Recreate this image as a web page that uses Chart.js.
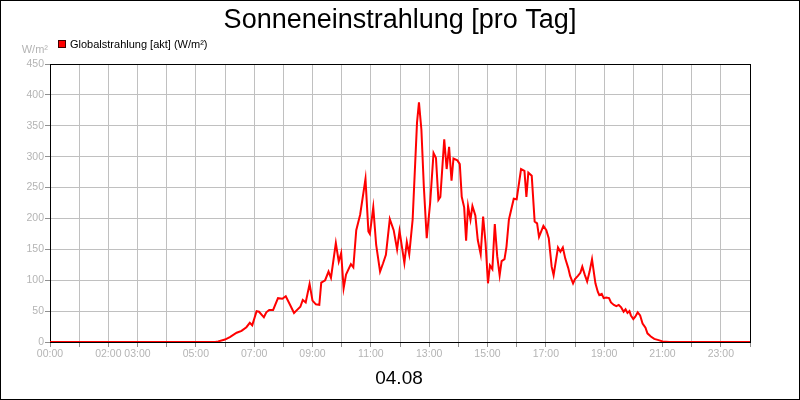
<!DOCTYPE html>
<html>
<head>
<meta charset="utf-8">
<script src="https://cdn.jsdelivr.net/npm/chart.js@4.4.1/dist/chart.umd.min.js"></script>
<style>
  html, body { margin: 0; padding: 0; background: #fff; }
  #wrap { width: 800px; height: 400px; }
</style>
</head>
<body>
<div id="wrap"><canvas id="c" width="800" height="400"></canvas></div>
<script>
const chartTitle = 'Sonneneinstrahlung [pro Tag]';
const dateLabel = '04.08';
const seriesName = 'Globalstrahlung [akt] (W/m²)';
const yUnit = 'W/m²';
const xTickHours = [0, 2, 3, 5, 7, 9, 11, 13, 15, 17, 19, 21, 23];

const times = [
  '00:00','05:40','05:46','06:00','06:10','06:24','06:34','06:44','06:51','06:56',
  '07:05','07:10','07:20','07:25','07:31','07:39','07:49','07:58','08:05','08:14',
  '08:22','08:31','08:35','08:40','08:46','08:54','09:00','09:07','09:14','09:18',
  '09:26','09:33','09:38','09:48','09:54','09:59','10:04','10:09','10:19','10:24',
  '10:30','10:38','10:49','10:55','10:58','11:05','11:11','11:19','11:25','11:31',
  '11:39','11:47','11:54','11:59','12:04','12:09','12:14','12:19','12:26','12:35',
  '12:39','12:44','12:49','12:55','13:02','13:09','13:14','13:19','13:23','13:31',
  '13:36','13:41','13:46','13:50','13:58','14:03','14:07','14:12','14:16','14:20',
  '14:25','14:29','14:35','14:40','14:46','14:51','14:56','15:01','15:05','15:10',
  '15:15','15:20','15:25','15:29','15:35','15:39','15:44','15:54','16:00','16:09',
  '16:16','16:20','16:24','16:31','16:37','16:42','16:46','16:55','17:01','17:06',
  '17:12','17:16','17:25','17:30','17:35','17:40','17:46','17:50','17:56','18:00',
  '18:06','18:11','18:15','18:20','18:25','18:30','18:35','18:38','18:42','18:47',
  '18:50','18:55','18:59','19:04','19:10','19:14','19:20','19:25','19:30','19:35',
  '19:40','19:44','19:48','19:52','19:55','20:00','20:04','20:09','20:14','20:19',
  '20:25','20:29','20:36','20:43','20:52','21:00','21:14','24:00'
];
const radiation = [
  0, 0, 1, 4, 8, 15, 18, 24, 31, 27,
  50, 49, 40, 48, 52, 52, 71, 70, 74, 60,
  47, 54, 57, 68, 64, 94, 67, 61, 60, 96,
  100, 114, 104, 160, 130, 144, 87, 109, 126, 121,
  181, 206, 264, 179, 175, 218, 157, 114, 127, 141,
  199, 181, 150, 180, 154, 128, 162, 142, 198, 355,
  388, 344, 252, 168, 225, 306, 298, 230, 235, 328,
  280, 316, 261, 297, 294, 288, 235, 218, 164, 220,
  198, 220, 205, 165, 142, 203, 160, 95, 124, 118,
  191, 139, 108, 131, 134, 154, 198, 232, 231, 280,
  277, 235, 274, 269, 195, 192, 170, 188, 181, 168,
  122, 108, 153, 146, 153, 135, 120, 107, 95, 102,
  107, 112, 122, 109, 98, 114, 134, 117, 95, 81,
  76, 78, 71, 72, 71, 64, 60, 58, 60, 56,
  49, 53, 47, 50, 43, 37, 41, 48, 43, 30,
  23, 14, 9, 5, 3, 1, 0, 0
];

function toHours(t) { const p = t.split(':'); return +p[0] + (+p[1]) / 60; }
const points = times.map((t, i) => ({ x: toHours(t), y: radiation[i] }));

const FONT = "'Liberation Sans', Arial, sans-serif";
const GRAY_TXT = '#b4b4b4';

const decor = {
  id: 'decor',
  beforeDraw(chart) {
    const ctx = chart.ctx;
    ctx.save();
    ctx.fillStyle = '#fff';
    ctx.fillRect(0, 0, chart.width, chart.height);
    ctx.restore();
  },
  beforeDatasetsDraw(chart) {
    const ctx = chart.ctx, a = chart.chartArea;
    ctx.save();
    ctx.strokeStyle = '#000';
    ctx.lineWidth = 1;
    ctx.strokeRect(Math.round(a.left) + 0.5, Math.round(a.top) + 0.5,
                   Math.round(a.right - a.left), Math.round(a.bottom - a.top));
    ctx.restore();
  },
  afterDraw(chart) {
    const ctx = chart.ctx;
    ctx.save();
    // outer frame
    ctx.strokeStyle = '#000';
    ctx.lineWidth = 1;
    ctx.strokeRect(0.5, 0.5, chart.width - 1, chart.height - 1);
    // title
    ctx.fillStyle = '#000';
    ctx.font = '27px ' + FONT;
    ctx.textAlign = 'center';
    ctx.textBaseline = 'alphabetic';
    ctx.fillText(chartTitle, 400, 28);
    // date label
    ctx.font = '19px ' + FONT;
    ctx.fillText(dateLabel, 399, 384);
    // legend
    ctx.fillStyle = '#ff0000';
    ctx.fillRect(58, 40, 8, 8);
    ctx.strokeStyle = '#400000';
    ctx.strokeRect(58.5, 40.5, 7, 7);
    ctx.fillStyle = '#000';
    ctx.font = '11px ' + FONT;
    ctx.textAlign = 'left';
    ctx.textBaseline = 'middle';
    ctx.fillText(seriesName, 70, 44.5);
    // unit
    ctx.fillStyle = GRAY_TXT;
    ctx.textAlign = 'right';
    ctx.fillText(yUnit, 48, 49.5);
    ctx.restore();
  }
};

new Chart(document.getElementById('c'), {
  type: 'line',
  data: {
    datasets: [{
      label: seriesName,
      data: points,
      borderColor: '#ff0000',
      backgroundColor: '#ff0000',
      borderWidth: 2,
      pointRadius: 0,
      tension: 0,
      fill: false
    }]
  },
  options: {
    responsive: false,
    animation: false,
    devicePixelRatio: 1,
    layout: { padding: { left: 0, right: 50, top: 64, bottom: 0 } },
    plugins: {
      legend: { display: false },
      title: { display: false },
      tooltip: { enabled: false }
    },
    scales: {
      x: {
        type: 'linear',
        min: 0,
        max: 24,
        afterFit(s) { s.height = 58; },
        afterBuildTicks(s) {
          const t = [];
          for (let h = 0; h <= 24; h++) t.push({ value: h });
          s.ticks = t;
        },
        ticks: {
          autoSkip: false,
          maxRotation: 0,
          padding: 1,
          color: GRAY_TXT,
          font: { family: FONT, size: 10.5 },
          callback(v) {
            return xTickHours.includes(v) ? String(v).padStart(2, '0') + ':00' : '';
          }
        },
        grid: { color: '#c0c0c0', tickColor: '#909090', tickLength: 5, lineWidth: 1 },
        border: { color: '#000', width: 1 }
      },
      y: {
        min: 0,
        max: 450,
        afterFit(s) { s.width = 50; },
        ticks: {
          stepSize: 50,
          padding: 1,
          color: GRAY_TXT,
          font: { family: FONT, size: 10.5 }
        },
        grid: { color: '#c0c0c0', tickColor: '#909090', tickLength: 5, lineWidth: 1 },
        border: { color: '#000', width: 1 }
      }
    }
  },
  plugins: [decor]
});
</script>
</body>
</html>
